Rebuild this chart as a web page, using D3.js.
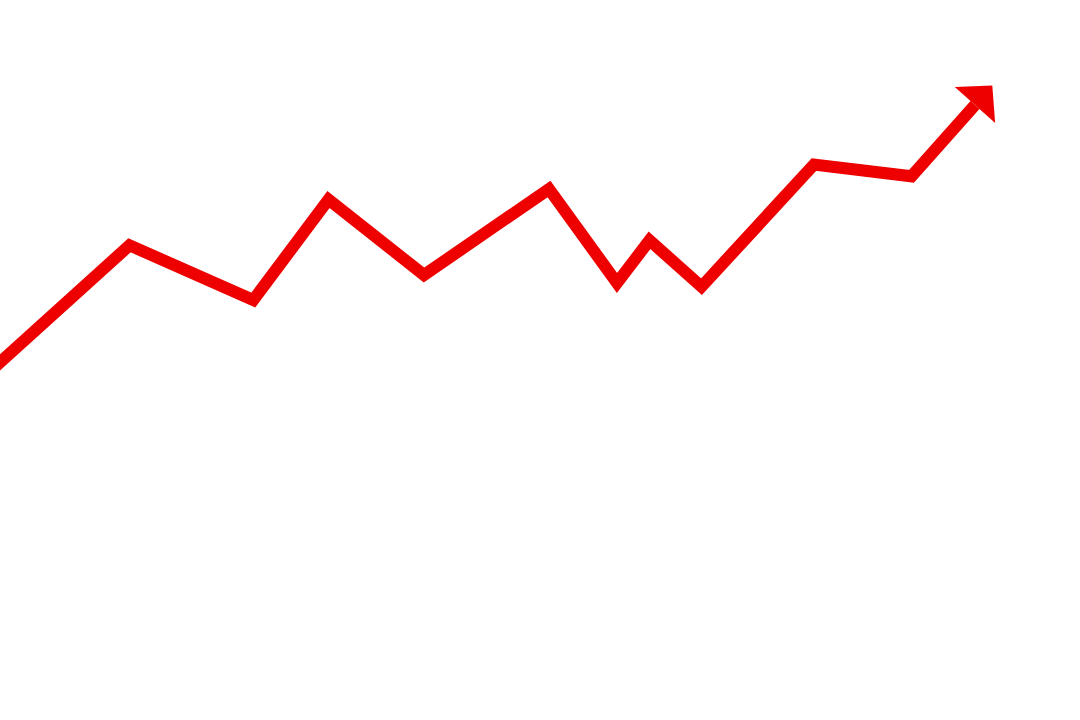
<!DOCTYPE html>
<html>
<head>
<meta charset="utf-8">
<script src="https://cdn.jsdelivr.net/npm/d3@7"></script>
<style>
  html, body { margin: 0; padding: 0; background: #fff; }
  svg { display: block; }
</style>
</head>
<body>
<svg width="1080" height="720"></svg>
<script>
// trend values (arbitrary units)
var steps  = [-1, 12.95, 25.33, 32.85, 42.4, 54.9, 61.7, 64.95, 70.15, 81.4, 91.15, 97.5];
var values = [34.85, 47.47, 42.0, 52.05, 44.5, 53.1, 43.7, 47.97, 43.33, 55.55, 54.37, 61.5];

var svg = d3.select("svg"),
    width = +svg.attr("width"),
    height = +svg.attr("height");

var x = d3.scaleLinear().domain([0, 108]).range([0, width]);
var y = d3.scaleLinear().domain([0, 72]).range([height, 0]);

var pts = steps.map(function(s, i) { return [x(s), y(values[i])]; });

var line = d3.line()
    .x(function(d) { return d[0]; })
    .y(function(d) { return d[1]; });

svg.append("path")
    .datum(pts)
    .attr("d", line)
    .attr("fill", "none")
    .attr("stroke", "#ee0000")
    .attr("stroke-width", 12)
    .attr("stroke-linejoin", "miter")
    .attr("stroke-miterlimit", 10);

// arrow head built off the last segment
var a = pts[pts.length - 2], b = pts[pts.length - 1];
var dx = b[0] - a[0], dy = b[1] - a[1], len = Math.sqrt(dx * dx + dy * dy);
var ux = dx / len, uy = dy / len;
var headLen = 26, halfW = 27;
var tip = [b[0] + ux * headLen, b[1] + uy * headLen];
var c1 = [b[0] - uy * halfW, b[1] + ux * halfW];
var c2 = [b[0] + uy * halfW, b[1] - ux * halfW];

svg.append("path")
    .attr("d", "M" + tip + "L" + c1 + "L" + c2 + "Z")
    .attr("fill", "#ee0000");
</script>
</body>
</html>
